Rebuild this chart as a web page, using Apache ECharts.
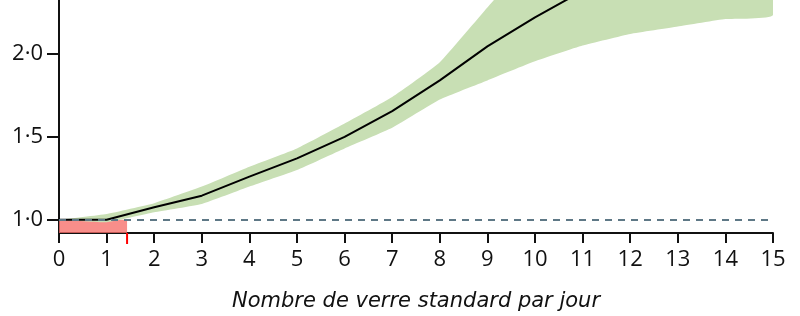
<!DOCTYPE html>
<html><head><meta charset="utf-8">
<script src="https://cdn.jsdelivr.net/npm/echarts@6/dist/echarts.min.js"></script>
<style>html,body{margin:0;padding:0;background:#fff}#c{width:800px;height:316px}</style>
</head><body><div id="c"></div>
<script>
const xs =    [0,    1,     2,     3,     4,    5,    6,    7,     8,     9,    10,    11,   12,   13,   14,   15];
const fit =   [1.00, 1.00,  1.075, 1.145, 1.26, 1.37, 1.50, 1.655, 1.84,  2.045,2.22,  2.38, 2.53, 2.67, 2.80, 2.92];
const upper = [1.00, 1.035, 1.10,  1.20,  1.32, 1.43, 1.58, 1.74,  1.95,  2.28, 2.60,  2.80, 2.90, 3.00, 3.10, 3.20];
const lower = [1.00, 0.985, 1.045, 1.095, 1.20, 1.30, 1.43, 1.555, 1.725, 1.84, 1.955, 2.05, 2.12, 2.165,2.21, 2.235];
const yTicks = [1.0, 1.5, 2.0];
const refY = 1.0;
const threshold = 1.43;
const yMin = 0.92, yMax = 2.325;

const chart = echarts.init(document.getElementById('c'), null, {renderer:'canvas'});
const font = 'Open Sans';
const bandPts = xs.map((x,i)=>[x,upper[i]]).concat(xs.map((x,i)=>[x,lower[i]]).reverse());
chart.setOption({
  animation:false,
  grid:{left:59,right:27,top:0,bottom:83,containLabel:false,outerBoundsMode:'none'},
  xAxis:{type:'value',min:0,max:15,interval:1,
    axisLine:{show:true,onZero:false,lineStyle:{color:'#111',width:2}},
    axisTick:{show:true,inside:false,length:10,lineStyle:{color:'#111',width:2}},
    axisLabel:{color:'#111',fontSize:22,fontFamily:font,margin:16},
    splitLine:{show:false},
    name:'Nombre de verre standard par jour',nameLocation:'middle',nameGap:58,
    nameTextStyle:{fontStyle:'italic',fontSize:21,color:'#111',fontFamily:'DejaVu Sans'}
  },
  yAxis:{type:'value',min:yMin,max:yMax,
    axisLine:{show:true,onZero:false,lineStyle:{color:'#111',width:2}},
    axisTick:{show:true,inside:false,length:12,customValues:yTicks,lineStyle:{color:'#111',width:2}},
    axisLabel:{color:'#111',fontSize:22,fontFamily:font,margin:16,customValues:yTicks,
      formatter:v=>v.toFixed(1).replace('.','·')},
    splitLine:{show:false}
  },
  series:[
    {type:'custom',z:1,clip:true,silent:true,data:[[0,0]],renderItem:(params,api)=>{
      return {type:'polygon',shape:{points:bandPts.map(p=>api.coord(p)),smooth:0.12},style:{fill:'#c8dfb4'}};
    }},
    {type:'line',data:xs.map((x,i)=>[x,fit[i]]),symbol:'none',lineStyle:{color:'#000',width:2},z:4,
      markArea:{silent:true,itemStyle:{color:'rgba(246,110,105,0.78)'},
        data:[[{xAxis:0,yAxis:yMin},{xAxis:threshold,yAxis:refY}]]},
      markLine:{silent:true,symbol:'none',label:{show:false},
        lineStyle:{color:'#5e7886',type:[7,6],width:2},data:[{yAxis:refY}]}},
    {type:'custom',z:5,silent:true,clip:false,data:[[threshold,yMin]],renderItem:(params,api)=>{
      const p = api.coord([api.value(0),api.value(1)]);
      return {type:'line',shape:{x1:p[0],y1:p[1],x2:p[0],y2:p[1]+11},style:{stroke:'#ff0000',lineWidth:2}};
    }}
  ]
});
</script></body></html>
